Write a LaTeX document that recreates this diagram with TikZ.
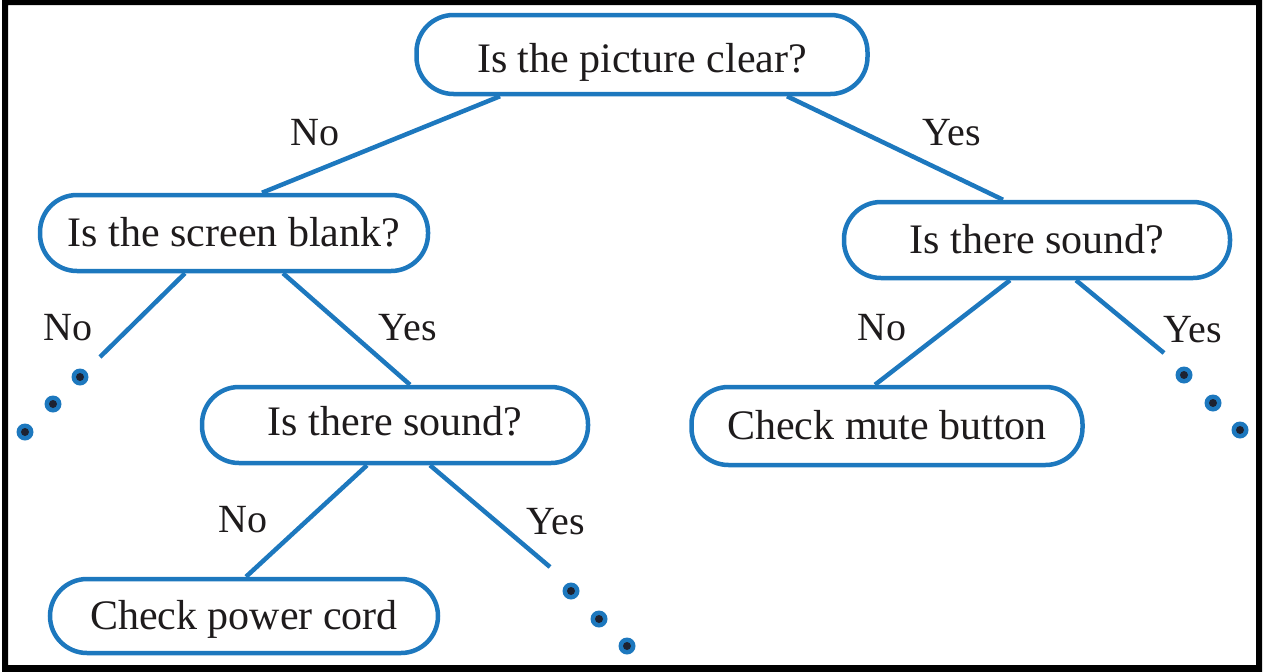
\documentclass[tikz,border=0pt]{standalone}
\usepackage{fontspec}
\setmainfont{Liberation Serif}
\usetikzlibrary{calc}
\definecolor{tblue}{RGB}{29,120,190}
\definecolor{inkc}{RGB}{30,27,28}
\definecolor{dotcore}{RGB}{30,34,48}
\tikzset{
  qbox/.style={draw=tblue, line width=4.5pt, rounded corners=37pt, fill=white,
    inner sep=0pt, text=inkc, font=\fontsize{42}{50}\selectfont,
    text height=37.8pt, text depth=10.6pt},
  link/.style={draw=tblue, line width=4.5pt},
  ans/.style={text=inkc, inner sep=0pt, font=\fontsize{40}{48}\selectfont},
  dotmark/.style={circle, fill=tblue, minimum size=17pt, inner sep=0pt,
    path picture={\fill[dotcore] (path picture bounding box.center) circle (4pt);}},
}
\begin{document}
\begin{tikzpicture}[x=1pt,y=-1pt]
\useasboundingbox (0,0) rectangle (1264,672);
% outer black frame
\fill[black, even odd rule] (2,0) rectangle (1262,672) (8,5) rectangle (1256,665);

% question and action boxes
\node[qbox, minimum width=451pt, minimum height=79pt, text depth=1pt] (top) at (642,54.5) {Is the picture clear?};
\node[qbox, minimum width=388pt, minimum height=76pt] (scr) at (234,233) {Is the screen blank?};
\node[qbox, minimum width=386pt, minimum height=76pt] (rsnd) at (1037,240) {Is there sound?};
\node[qbox, minimum width=386pt, minimum height=76pt, text depth=17.8pt] (lsnd) at (395,425) {Is there sound?};
\node[qbox, minimum width=388pt, minimum height=74pt] (cord) at (244,616) {Check power cord};
\node[qbox, minimum width=391pt, minimum height=78pt] (mute) at (887,426) {Check mute button};

% free ends of the open branches
\coordinate (e1) at (100,357);
\coordinate (e2) at (550,567);
\coordinate (e3) at (1164,353);

% connectors
\draw[link] ($(top.south)+(-142,0)$) -- ($(scr.north)+(28,0)$);
\draw[link] ($(top.south)+(145,0)$) -- ($(rsnd.north)+(-34,0)$);
\draw[link] ($(scr.south)+(-49,0)$) -- (e1);
\draw[link] ($(scr.south)+(49,0)$) -- ($(lsnd.north)+(15,0)$);
\draw[link] ($(lsnd.south)+(-28,0)$) -- ($(cord.north)+(2,0)$);
\draw[link] ($(lsnd.south)+(35,0)$) -- (e2);
\draw[link] ($(rsnd.south)+(-27,0)$) -- ($(mute.north)+(-12,0)$);
\draw[link] ($(rsnd.south)+(39,0)$) -- (e3);

% continuation dots
\node[dotmark] (a1) at (80,377) {};
\node[dotmark] (a2) at (53,404) {};
\node[dotmark] (a3) at (25,432) {};
\node[dotmark] (b1) at (571,591) {};
\node[dotmark] (b2) at (599,619) {};
\node[dotmark] (b3) at (627,646) {};
\node[dotmark] (c1) at (1184,375) {};
\node[dotmark] (c2) at (1213,403) {};
\node[dotmark] (c3) at (1240,430) {};

% branch labels
\node[ans] (l1) at (315,133) {No};
\node[ans] (l2) at (952,133) {Yes};
\node[ans] (l3) at (68,328) {No};
\node[ans] (l4) at (408,328) {Yes};
\node[ans] (l5) at (882,328) {No};
\node[ans] (l6) at (1193,330) {Yes};
\node[ans] (l7) at (243,520) {No};
\node[ans] (l8) at (556,522) {Yes};
\end{tikzpicture}
\end{document}
